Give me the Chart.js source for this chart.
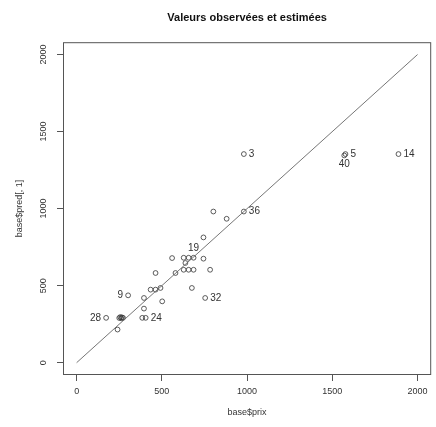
<!DOCTYPE html>
<html>
<head>
<meta charset="utf-8">
<script src="https://cdn.jsdelivr.net/npm/chart.js@4.4.0/dist/chart.umd.min.js"></script>
<style>
  html, body { margin: 0; padding: 0; background: #fff; }
  #wrap { width: 436px; height: 427px; }
</style>
</head>
<body>
<div id="wrap"><canvas id="myChart"></canvas></div>
<script>
    var prixObs = [981, 1577, 1570, 1888, 981, 802, 880, 744, 560, 628,
                   657, 686, 744, 638, 463, 580, 628, 657, 686, 783,
                   676, 754, 434, 463, 492, 502, 395, 395, 302, 173,
                   250, 256, 262, 266, 272, 385, 405, 240]
    var predVal = [1354, 1354, 1345, 1354, 981, 981, 934, 813, 679, 681,
                   681, 681, 675, 647, 582, 582, 603, 603, 603, 603,
                   485, 420, 474, 474, 485, 398, 420, 351, 437, 291,
                   290, 296, 288, 294, 291, 291, 291, 215]
    // labels of the outliers (index into the arrays above) and R-style pos
    var labelIdx  = [0, 1, 2, 3, 4, 11, 21, 28, 29, 36]
    var labelText = ['3', '5', '40', '14', '36', '19', '32', '9', '28', '24']
    var labelPos  = ['right', 'right', 'below', 'right', 'right', 'above', 'right', 'left', 'left', 'right']
    var refLine = [0, 2000]
    var tickValues = [0, 500, 1000, 1500, 2000]

    var points = []
    for (var i = 0; i < prixObs.length; i++) {
        points.push({x: prixObs[i], y: predVal[i]})
    }

    var boxAndLabels = {
        id: 'boxAndLabels',
        afterDatasetsDraw: function(chart) {
            var ctx = chart.ctx
            var a = chart.chartArea
            ctx.save()
            ctx.strokeStyle = '#555'
            ctx.lineWidth = 1
            ctx.strokeRect(a.left + 0.5, a.top + 0.5, a.right - a.left - 1, a.bottom - a.top - 1)
            var meta = chart.getDatasetMeta(1)
            ctx.fillStyle = '#333'
            ctx.font = '10px "Liberation Sans", Arial, sans-serif'
            for (var k = 0; k < labelIdx.length; k++) {
                var el = meta.data[labelIdx[k]]
                var px = el.x, py = el.y
                var p = labelPos[k]
                if (p === 'right') { ctx.textAlign = 'left'; ctx.textBaseline = 'middle'; px += 5 }
                else if (p === 'left') { ctx.textAlign = 'right'; ctx.textBaseline = 'middle'; px -= 5 }
                else if (p === 'above') { ctx.textAlign = 'center'; ctx.textBaseline = 'bottom'; py -= 4 }
                else { ctx.textAlign = 'center'; ctx.textBaseline = 'top'; py += 4 }
                ctx.fillText(labelText[k], px, py)
            }
            ctx.restore()
        }
    }

    var ctx = document.getElementById('myChart').getContext('2d');
    var myChart = new Chart(ctx, {
        type: 'scatter',
        data: {
            datasets: [{
                label: 'ref',
                data: [{x: refLine[0], y: refLine[0]}, {x: refLine[1], y: refLine[1]}],
                showLine: true,
                pointRadius: 0,
                borderColor: '#666',
                borderWidth: 0.9
            }, {
                label: 'obs',
                data: points,
                pointRadius: 2.4,
                pointBorderWidth: 0.8,
                pointBorderColor: '#333',
                pointBackgroundColor: 'rgba(0,0,0,0)'
            }]
        },
        options: {
            responsive: true,
            maintainAspectRatio: false,
            animation: false,
            layout: { padding: { left: 0, right: 1, top: 0, bottom: 0 } },
            plugins: {
                legend: { display: false },
                tooltip: { enabled: false },
                title: {
                    display: true,
                    fullSize: false,
                    text: 'Valeurs observées et estimées',
                    color: '#111',
                    font: { family: '"Liberation Sans", Arial, sans-serif', size: 11, weight: 'bold' },
                    padding: { top: 11, bottom: 18 }
                }
            },
            scales: {
                x: {
                    type: 'linear',
                    min: -80,
                    max: 2080,
                    afterBuildTicks: function(scale) {
                        scale.ticks = tickValues.map(function(v) { return {value: v} })
                    },
                    afterFit: function(scale) { scale.height = 52 },
                    grid: { drawOnChartArea: false, drawTicks: true, tickLength: 6, color: '#555' },
                    border: { display: false },
                    ticks: {
                        color: '#333',
                        padding: 5,
                        maxRotation: 0,
                        callback: function(v) { return String(v) },
                        font: { family: '"Liberation Sans", Arial, sans-serif', size: 9 }
                    },
                    title: {
                        display: true,
                        text: 'base$prix',
                        color: '#333',
                        padding: { top: 6, bottom: 9 },
                        font: { family: '"Liberation Sans", Arial, sans-serif', size: 9 }
                    }
                },
                y: {
                    type: 'linear',
                    min: -80,
                    max: 2080,
                    afterBuildTicks: function(scale) {
                        scale.ticks = tickValues.map(function(v) { return {value: v} })
                    },
                    afterFit: function(scale) { scale.width = 63 },
                    grid: { drawOnChartArea: false, drawTicks: true, tickLength: 6, color: '#555' },
                    border: { display: false },
                    ticks: {
                        color: '#333',
                        padding: 3,
                        minRotation: 90,
                        maxRotation: 90,
                        crossAlign: 'center',
                        callback: function(v) { return String(v) },
                        font: { family: '"Liberation Sans", Arial, sans-serif', size: 9 }
                    },
                    title: {
                        display: true,
                        text: 'base$pred[, 1]',
                        color: '#333',
                        padding: { top: 14, bottom: 0 },
                        font: { family: '"Liberation Sans", Arial, sans-serif', size: 9 }
                    }
                }
            }
        },
        plugins: [boxAndLabels]
    });
</script>
</body>
</html>
